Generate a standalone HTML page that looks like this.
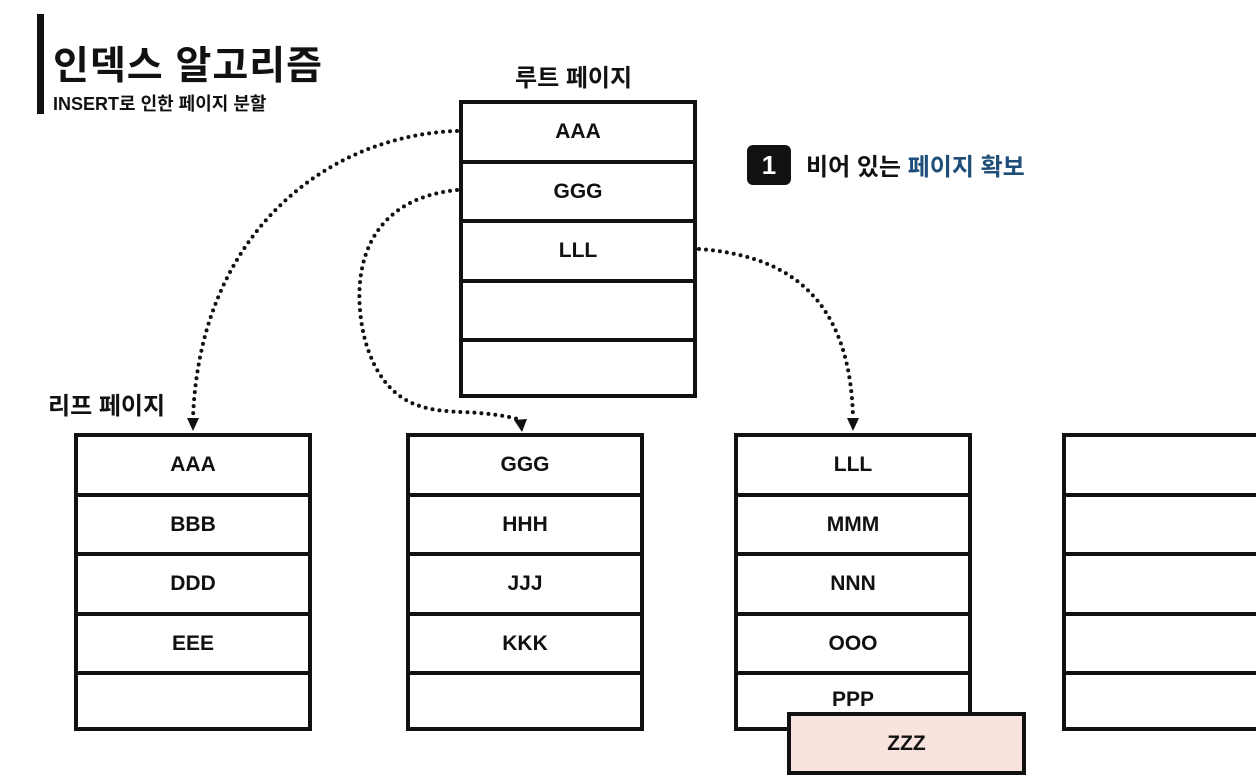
<!DOCTYPE html>
<html><head><meta charset="utf-8"><style>
body{margin:0;width:1256px;height:778px;background:#fff;overflow:hidden;position:relative;font-family:"Liberation Sans","Noto Sans CJK KR",sans-serif;color:#111}
.t{position:absolute;font-weight:bold;white-space:nowrap}
.box{position:absolute;border:4px solid #111;background:#fff;box-sizing:border-box}
.box div{height:59.5px;border-bottom:4px solid #111;box-sizing:border-box;text-align:center;line-height:56px;font-weight:bold;font-size:21px}
.box div:last-child{border-bottom:none}
</style></head><body>
<div style="position:absolute;left:37px;top:14px;width:7px;height:100px;background:#111"></div>
<div class="t" style="left:53px;top:35px;font-size:39px;letter-spacing:1px">인덱스 알고리즘</div>
<div class="t" style="left:53px;top:90px;font-size:18px">INSERT로 인한 페이지 분할</div>
<div class="t" style="left:515px;top:58px;font-size:24px">루트 페이지</div>
<div class="t" style="left:48px;top:386px;font-size:24px">리프 페이지</div>
<div style="position:absolute;left:747px;top:145px;width:44px;height:40px;background:#111;border-radius:6px;color:#fff;font-weight:bold;font-size:26px;text-align:center;line-height:40px">1</div>
<div class="t" style="left:806px;top:147px;font-size:24px">비어 있는 <span style="color:#1f4e79">페이지 확보</span></div>

<div class="box" style="left:459px;top:100px;width:238px;height:298px"><div>AAA</div><div>GGG</div><div>LLL</div><div></div><div></div></div>
<div class="box" style="left:74px;top:433px;width:238px;height:298px"><div>AAA</div><div>BBB</div><div>DDD</div><div>EEE</div><div></div></div>
<div class="box" style="left:406px;top:433px;width:238px;height:298px"><div>GGG</div><div>HHH</div><div>JJJ</div><div>KKK</div><div></div></div>
<div class="box" style="left:734px;top:433px;width:238px;height:298px"><div>LLL</div><div>MMM</div><div>NNN</div><div>OOO</div><div style="line-height:50px">PPP</div></div>
<div class="box" style="left:1062px;top:433px;width:238px;height:298px"><div></div><div></div><div></div><div></div><div></div></div>
<div class="box" style="left:787px;top:712px;width:239px;height:63px;background:#f9e3de;text-align:center;line-height:55px;font-weight:bold;font-size:21px">ZZZ</div>

<svg width="1256" height="778" style="position:absolute;left:0;top:0" fill="none">
<g stroke="#111" stroke-width="4" stroke-linecap="round" stroke-dasharray="0 7">
<path d="M457 131 C330 135 200 230 193 418"/>
<path d="M457 190 C360 200 350 280 365 340 C385 410 430 410 460 412 C495 413 515 418 521 420"/>
<path d="M699 249 C780 255 850 290 853 418"/>
</g>
<g fill="#111">
<path d="M187 418 L199 418 L193 431 Z"/>
<path d="M514 420 L527 419 L522 432 Z"/>
<path d="M847 418 L859 418 L853 431 Z"/>
</g>
</svg>
</body></html>
